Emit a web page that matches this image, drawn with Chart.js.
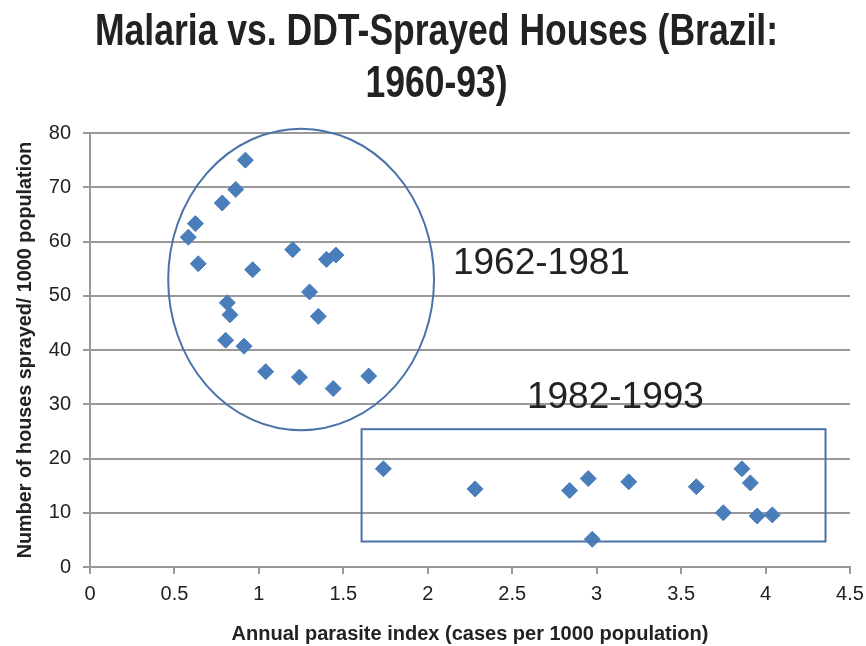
<!DOCTYPE html>
<html>
<head>
<meta charset="utf-8">
<script src="https://cdn.jsdelivr.net/npm/chart.js@4/dist/chart.umd.min.js"></script>
<style>
  html, body { margin: 0; padding: 0; background: #fff; }
  #wrap { width: 866px; height: 646px; }
</style>
</head>
<body>
<div id="wrap"><canvas id="malariaChart" width="866" height="646"></canvas></div>
<script>
// 1962-1981 (high spraying)
var earlyX = [0.92, 0.863, 0.783, 0.624, 0.582, 0.641, 1.20, 1.40, 1.456, 0.963, 1.30, 0.813, 0.829, 1.352, 0.803, 0.912, 1.04, 1.24, 1.44, 1.65];
var earlyY = [75.0, 69.6, 67.1, 63.3, 60.8, 55.9, 58.5, 56.7, 57.5, 54.8, 50.7, 48.7, 46.5, 46.2, 41.8, 40.7, 36.0, 35.0, 32.9, 35.2];
// 1982-1993 (low spraying)
var lateX = [1.737, 2.28, 2.84, 2.95, 2.974, 3.19, 3.59, 3.75, 3.86, 3.91, 3.95, 4.04];
var lateY = [18.1, 14.4, 14.1, 16.3, 5.1, 15.7, 14.8, 10.0, 18.1, 15.5, 9.4, 9.6];

var xTicks = [0, 0.5, 1, 1.5, 2, 2.5, 3, 3.5, 4, 4.5];
var yTicks = [0, 10, 20, 30, 40, 50, 60, 70, 80];

var titleLines = ['Malaria vs. DDT-Sprayed Houses (Brazil:', '1960-93)'];
var xTitle = 'Annual parasite index (cases per 1000 population)';
var yTitle = 'Number of houses sprayed/ 1000 population';

// groups drawn round the points, in data units
var groupEllipse = { label: '1962-1981', cx: 1.25, cy: 53.0, rx: 0.787, ry: 27.8, tx: 2.149, ty: 54.1 };
var groupBox = { label: '1982-1993', x1: 1.608, x2: 4.355, y1: 25.4, y2: 4.7, tx: 2.587, ty: 29.3 };

function toPoints(xs, ys) {
    return xs.map(function(x, i) { return { x: x, y: ys[i] }; });
}

var blue = '#4A7EBB';
var textCol = '#222';
var fontFam = '"Liberation Sans", Arial, sans-serif';

// title drawn by hand so it can be squeezed like the narrow original font
var titlePlugin = {
    id: 'narrowTitle',
    afterDraw: function(chart) {
        var ctx = chart.ctx;
        ctx.save();
        ctx.fillStyle = textCol;
        ctx.font = 'bold 44px ' + fontFam;
        ctx.textBaseline = 'alphabetic';
        ctx.textAlign = 'center';
        var w = ctx.measureText(titleLines[0]).width;
        var sx = 683 / w;
        var cx = 436.5;
        var baselines = [45, 97];
        titleLines.forEach(function(line, i) {
            ctx.save();
            ctx.translate(cx, baselines[i]);
            ctx.scale(sx, 1);
            ctx.fillText(line, 0, 0);
            ctx.restore();
        });
        ctx.restore();
    }
};

var groupPlugin = {
    id: 'groups',
    afterDatasetsDraw: function(chart) {
        var ctx = chart.ctx, xs = chart.scales.x, ys = chart.scales.y;
        ctx.save();
        ctx.strokeStyle = '#4A72A8';
        ctx.lineWidth = 2;
        // ellipse
        var cx = xs.getPixelForValue(groupEllipse.cx), cy = ys.getPixelForValue(groupEllipse.cy);
        var rx = xs.getPixelForValue(groupEllipse.cx + groupEllipse.rx) - cx;
        var ry = cy - ys.getPixelForValue(groupEllipse.cy + groupEllipse.ry);
        ctx.beginPath();
        ctx.ellipse(cx, cy, rx, ry, 0, 0, Math.PI * 2);
        ctx.stroke();
        // box
        var bx1 = xs.getPixelForValue(groupBox.x1), bx2 = xs.getPixelForValue(groupBox.x2);
        var by1 = ys.getPixelForValue(groupBox.y1), by2 = ys.getPixelForValue(groupBox.y2);
        ctx.strokeRect(bx1, by1, bx2 - bx1, by2 - by1);
        // labels
        ctx.fillStyle = textCol;
        ctx.font = '37px ' + fontFam;
        ctx.textAlign = 'left';
        ctx.textBaseline = 'alphabetic';
        ctx.fillText(groupEllipse.label, xs.getPixelForValue(groupEllipse.tx), ys.getPixelForValue(groupEllipse.ty));
        ctx.fillText(groupBox.label, xs.getPixelForValue(groupBox.tx), ys.getPixelForValue(groupBox.ty));
        ctx.restore();
    }
};

var ctx = document.getElementById('malariaChart').getContext('2d');
var malariaChart = new Chart(ctx, {
    type: 'scatter',
    data: {
        datasets: [{
            label: '1962-1981',
            data: toPoints(earlyX, earlyY),
            backgroundColor: blue,
            borderColor: blue,
            pointStyle: 'rectRot',
            pointRadius: 8,
            pointHoverRadius: 8
        }, {
            label: '1982-1993',
            data: toPoints(lateX, lateY),
            backgroundColor: blue,
            borderColor: blue,
            pointStyle: 'rectRot',
            pointRadius: 8,
            pointHoverRadius: 8
        }]
    },
    options: {
        responsive: false,
        animation: false,
        layout: { padding: { left: 0, right: 0, top: 133, bottom: 0 } },
        plugins: {
            legend: { display: false },
            tooltip: { enabled: false },
            title: { display: false }
        },
        scales: {
            x: {
                type: 'linear',
                min: 0,
                max: 4.5,
                afterBuildTicks: function(axis) { axis.ticks = xTicks.map(function(v) { return { value: v }; }); },
                afterFit: function(axis) { axis.height = 79; axis.paddingRight = 16; },
                grid: { display: true, drawOnChartArea: false, drawTicks: true, tickLength: 7, color: '#999', lineWidth: 2 },
                border: { display: true, color: '#999', width: 2 },
                ticks: {
                    color: textCol,
                    font: { family: fontFam, size: 20 },
                    padding: 8,
                    callback: function(v) { return String(v); }
                },
                title: { display: true, text: xTitle, color: textCol, font: { family: fontFam, size: 20, weight: 'bold' }, padding: { top: 0, bottom: 0 } }
            },
            y: {
                type: 'linear',
                min: 0,
                max: 80,
                afterBuildTicks: function(axis) { axis.ticks = yTicks.map(function(v) { return { value: v }; }); },
                afterFit: function(axis) { axis.width = 90; },
                grid: { color: '#999', lineWidth: 2, drawTicks: true, tickLength: 7 },
                border: { display: true, color: '#999', width: 2 },
                ticks: { color: textCol, font: { family: fontFam, size: 20 }, padding: 12 },
                title: { display: true, text: yTitle, color: textCol, font: { family: fontFam, size: 19.8, weight: 'bold' }, padding: { top: 14, bottom: 2 } }
            }
        }
    },
    plugins: [groupPlugin, titlePlugin]
});
</script>
</body>
</html>
